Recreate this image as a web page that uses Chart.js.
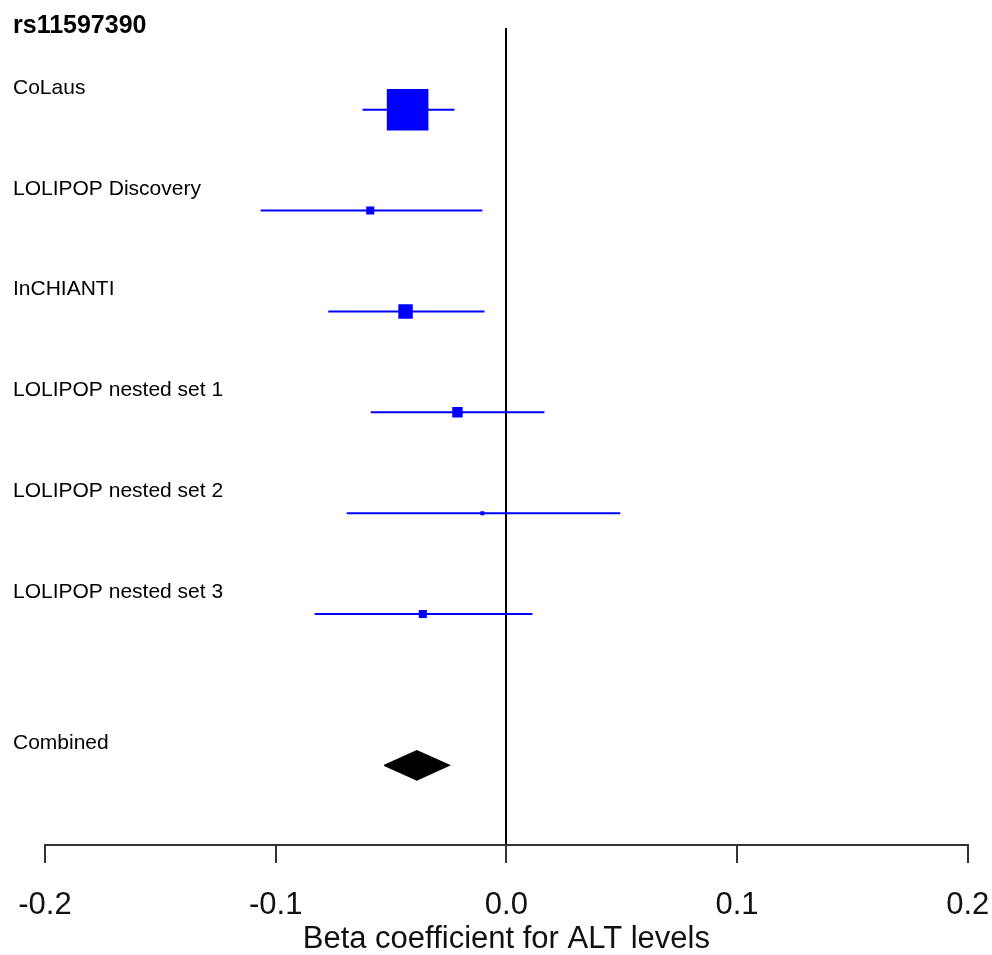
<!DOCTYPE html>
<html><head><meta charset="utf-8">
<script src="https://cdn.jsdelivr.net/npm/chart.js@4"></script>
<style>html,body{margin:0;padding:0;background:#fff;overflow:hidden}#wrap{width:992px;height:955px;position:relative}</style>
</head><body><div id="wrap"><canvas id="c"></canvas></div>
<script>
// ---- data ----
const snpTitle = 'rs11597390';
const studies = ['CoLaus', 'LOLIPOP Discovery', 'InCHIANTI', 'LOLIPOP nested set 1', 'LOLIPOP nested set 2', 'LOLIPOP nested set 3'];
const beta   = [-0.0428, -0.0590, -0.0437, -0.0212, -0.0104, -0.0362];
const ciLow  = [-0.0623, -0.1065, -0.0772, -0.0588, -0.0692, -0.0831];
const ciHigh = [-0.0225, -0.0104, -0.0095,  0.0165,  0.0494,  0.0113];
const weights = [48.1, 9.3, 16.7, 12.0, 4.6, 9.3];
const combinedLabel = 'Combined';
const combinedBeta = [-0.0388];
const combinedLow  = [-0.0529];
const combinedHigh = [-0.0248];
const xTicks = [-0.2, -0.1, 0.0, 0.1, 0.2];
const xTitle = 'Beta coefficient for ALT levels';

// ---- layout constants ----
const rowPos = [0, 1, 2, 3, 4, 5];
const combinedPos = 6.5;
const BLUE = '#0000ff';
const FONT = '"Liberation Sans", Arial, sans-serif';
const DIAMOND_HALF = 0.144;      // in row units
const BOX_PX_PER_WEIGHT = 0.865; // box side in px per weight unit

Chart.defaults.font.family = FONT;

const datasets = [];
// boxes (drawn on top of CI lines)
datasets.push({
  type: 'scatter',
  data: studies.map((s, i) => ({x: beta[i], y: rowPos[i]})),
  pointStyle: 'rect',
  pointRadius: weights.map(w => (w * BOX_PX_PER_WEIGHT) / (2 * Math.SQRT1_2)),
  pointHoverRadius: weights.map(w => (w * BOX_PX_PER_WEIGHT) / (2 * Math.SQRT1_2)),
  backgroundColor: BLUE,
  borderWidth: 0,
  pointBorderWidth: 0,
  showLine: false
});
// CI lines
studies.forEach((s, i) => {
  datasets.push({
    type: 'line',
    data: [{x: ciLow[i], y: rowPos[i]}, {x: ciHigh[i], y: rowPos[i]}],
    borderColor: BLUE,
    borderWidth: 2,
    pointRadius: 0,
    fill: false
  });
});
// combined diamond (closed polygon)
datasets.push({
  type: 'line',
  data: [
    {x: combinedLow[0], y: combinedPos},
    {x: combinedBeta[0], y: combinedPos - DIAMOND_HALF},
    {x: combinedHigh[0], y: combinedPos},
    {x: combinedBeta[0], y: combinedPos + DIAMOND_HALF},
    {x: combinedLow[0], y: combinedPos}
  ],
  borderColor: '#000', borderWidth: 1.5, backgroundColor: '#000', pointRadius: 0, tension: 0,
  fill: 'shape'
});

const rowLabels = studies.concat([combinedLabel]);
const rowLabelPos = rowPos.concat([combinedPos]);

const labelPlugin = {
  id: 'rowLabels',
  afterDraw(chart) {
    const {ctx} = chart;
    const y = chart.scales.y;
    ctx.save();
    ctx.fillStyle = '#000';
    ctx.textAlign = 'left';
    ctx.textBaseline = 'alphabetic';
    ctx.font = 'bold 25px ' + FONT;
    ctx.fillText(snpTitle, 13, 33);
    ctx.font = '21px ' + FONT;
    rowLabels.forEach((t, i) => ctx.fillText(t, 13, y.getPixelForValue(rowLabelPos[i]) - 16));
    ctx.restore();
  }
};

new Chart(document.getElementById('c'), {
  type: 'scatter',
  data: {datasets},
  plugins: [labelPlugin],
  options: {
    responsive: true,
    maintainAspectRatio: false,
    animation: false,
    layout: {autoPadding: false, padding: {left: 45, right: 24.3, top: 28, bottom: 0}},
    plugins: {legend: {display: false}, tooltip: {enabled: false}, title: {display: false}},
    scales: {
      x: {
        type: 'linear',
        min: -0.2, max: 0.2,
        z: 1,
        afterBuildTicks: s => { s.ticks = xTicks.map(v => ({value: v})); },
        afterFit: s => { s.height = 110; s.paddingLeft = 0; s.paddingRight = 0; },
        border: {display: true, color: '#333', width: 2},
        grid: {
          drawOnChartArea: true,
          drawTicks: true,
          tickLength: 18,
          tickColor: '#333',
          tickWidth: 2,
          lineWidth: 2,
          color: ctx => (ctx.tick && ctx.tick.value === 0) ? '#000' : 'rgba(0,0,0,0)'
        },
        ticks: {
          color: '#111',
          font: {size: 31},
          padding: 24,
          maxRotation: 0,
          autoSkip: false,
          callback: v => Number(v).toFixed(1)
        },
        title: {display: true, text: xTitle, color: '#111', font: {size: 31, lineHeight: 1.0}, padding: {top: 0, bottom: 0}}
      },
      y: {
        type: 'linear',
        display: false,
        reverse: true,
        min: -0.81, max: 7.29
      }
    }
  }
});
</script></body></html>
